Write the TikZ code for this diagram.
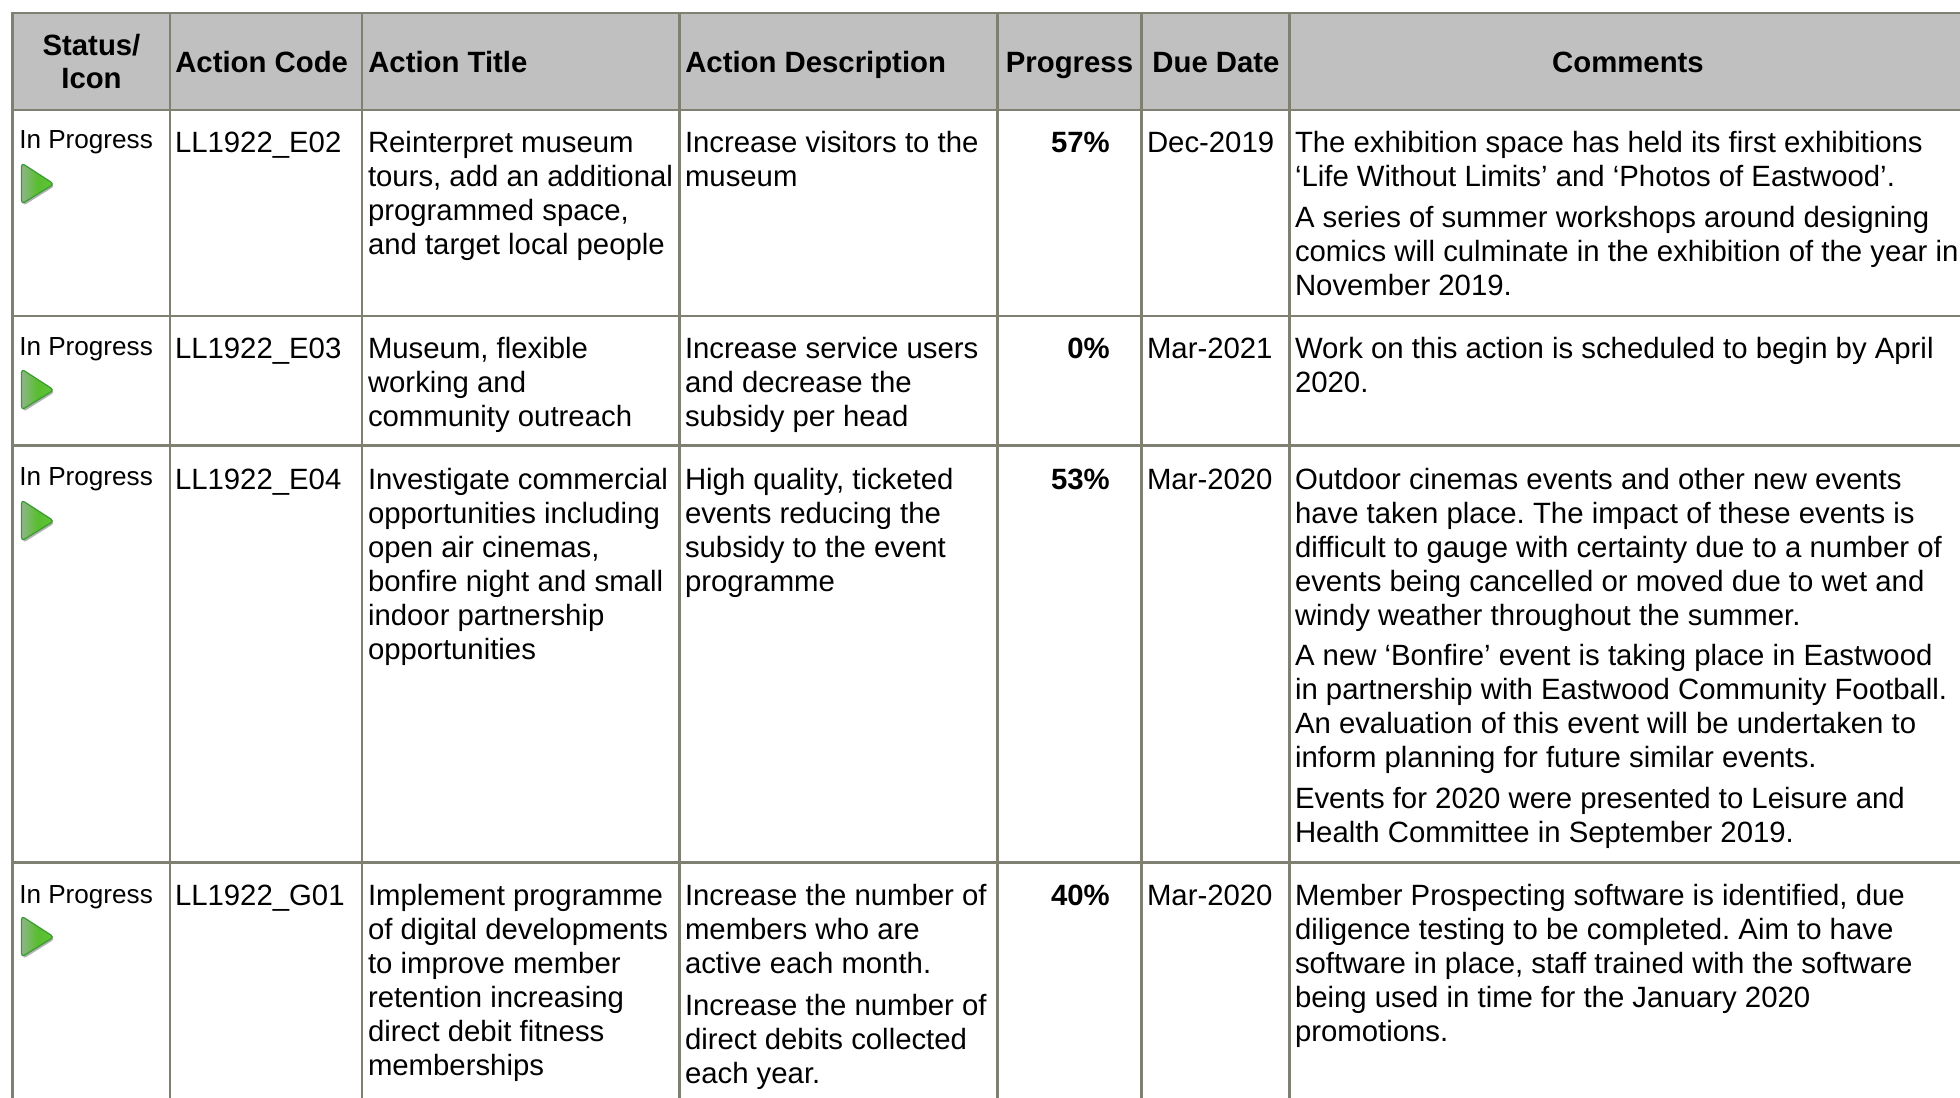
\documentclass[tikz,border=0pt]{standalone}
\usepackage{fontspec}
\setmainfont{Liberation Sans}
\frenchspacing
\newcommand{\fs}{\rule{0pt}{18pt}}
\tikzset{
  x=0.75pt,y=-0.75pt,
  gridline/.style={draw=gridcol,line width=1.9pt},
  txt/.style={anchor=north west,inner sep=0pt,outer sep=0pt,align=left,yshift=17.4pt,font=\fontsize{22}{25.4}\selectfont,text=black},
  status/.style={anchor=base west,inner sep=0pt,font=\fontsize{19.6}{24}\selectfont},
  head/.style={anchor=base,inner sep=0pt,font=\fontsize{22}{25}\selectfont\bfseries},
  headl/.style={head,anchor=base west},
  pct/.style={anchor=base east,inner sep=0pt,yshift=-0.6pt,font=\fontsize{22}{25}\selectfont\bfseries},
  playicon/.pic={
    \path[fill=black!30,rounded corners=2.6pt] (1,1.5) -- (1,42) -- (33,22) -- cycle;
    \path[left color=iconl,right color=iconr,middle color=iconm,draw=iconb,line width=0.9pt,rounded corners=2.6pt] (-0.5,-1) -- (-0.5,40) -- (32,20) -- cycle;
  }
}
\definecolor{gridcol}{HTML}{7F7F72}
\definecolor{headfill}{HTML}{C0C0C0}
\definecolor{iconl}{HTML}{8FB58A}
\definecolor{iconm}{HTML}{58BE2E}
\definecolor{iconr}{HTML}{62C43A}
\definecolor{iconb}{HTML}{3C9A34}
\begin{document}
\begin{tikzpicture}
\useasboundingbox (0,0) rectangle (1960,1098);
\fill[white] (0,0) rectangle (1960,1098);
\fill[headfill] (12,13) rectangle (1960,110);
% grid
\foreach \gx in {12.5,170,362,679.5,997.5,1141.5,1289.5}
  \draw[gridline] (\gx,13) -- (\gx,1098);
\foreach \gy in {13,110,316,445.5,862.5}
  \draw[gridline] (11,\gy) -- (1960,\gy);
% header
\node[head] (h1a) at (91.5,56) {Status/};
\node[head] (h1b) at (91.5,89) {Icon};
\node[headl] (h2) at (175,73) {Action Code};
\node[headl] (h3) at (368,73) {Action Title};
\node[headl] (h4) at (685,73) {Action Description};
\node[head] (h5) at (1069.5,73) {Progress};
\node[head] (h6) at (1216,73) {Due Date};
\node[head] (h7) at (1628,73) {Comments};
% row 1
\node[status] (s1) at (19,149) {In Progress};
\pic at (22,164) {playicon};
\node[txt] (c1) at (175,152) {\fs LL1922\_E02};
\node[txt] (t1) at (368,152) {\fs Reinterpret museum\\tours, add an additional\\programmed space,\\and target local people};
\node[txt] (d1) at (685,152) {\fs Increase visitors to the\\museum};
\node[pct] (p1) at (1110,152) {57\%};
\node[txt] (u1) at (1147,152) {\fs Dec-2019};
\node[txt] (m1a) at (1295,152) {\fs The exhibition space has held its first exhibitions\\‘Life Without Limits’ and ‘Photos of Eastwood’.};
\node[txt] (m1b) at (1295,227) {\fs A series of summer workshops around designing\\comics will culminate in the exhibition of the year in\\November 2019.};
% row 2
\node[status] (s2) at (19,355) {In Progress};
\pic at (22,370) {playicon};
\node[txt] (c2) at (175,358) {\fs LL1922\_E03};
\node[txt] (t2) at (368,358) {\fs Museum, flexible\\working and\\community outreach};
\node[txt] (d2) at (685,358) {\fs Increase service users\\and decrease the\\subsidy per head};
\node[pct] (p2) at (1110,358) {0\%};
\node[txt] (u2) at (1147,358) {\fs Mar-2021};
\node[txt] (m2) at (1295,358) {\fs Work on this action is scheduled to begin by April\\2020.};
% row 3
\node[status] (s3) at (19,485) {In Progress};
\pic at (22,501) {playicon};
\node[txt] (c3) at (175,489) {\fs LL1922\_E04};
\node[txt] (t3) at (368,489) {\fs Investigate commercial\\opportunities including\\open air cinemas,\\bonfire night and small\\indoor partnership\\opportunities};
\node[txt] (d3) at (685,489) {\fs High quality, ticketed\\events reducing the\\subsidy to the event\\programme};
\node[pct] (p3) at (1110,489) {53\%};
\node[txt] (u3) at (1147,489) {\fs Mar-2020};
\node[txt] (m3a) at (1295,489) {\fs Outdoor cinemas events and other new events\\have taken place. The impact of these events is\\difficult to gauge with certainty due to a number of\\events being cancelled or moved due to wet and\\windy weather throughout the summer.};
\node[txt] (m3b) at (1295,665) {\fs A new ‘Bonfire’ event is taking place in Eastwood\\in partnership with Eastwood Community Football.\\An evaluation of this event will be undertaken to\\inform planning for future similar events.};
\node[txt] (m3c) at (1295,808) {\fs Events for 2020 were presented to Leisure and\\Health Committee in September 2019.};
% row 4
\node[status] (s4) at (19,903) {In Progress};
\pic at (22,917) {playicon};
\node[txt] (c4) at (175,905) {\fs LL1922\_G01};
\node[txt] (t4) at (368,905) {\fs Implement programme\\of digital developments\\to improve member\\retention increasing\\direct debit fitness\\memberships};
\node[txt] (d4a) at (685,905) {\fs Increase the number of\\members who are\\active each month.};
\node[txt] (d4b) at (685,1015) {\fs Increase the number of\\direct debits collected\\each year.};
\node[pct] (p4) at (1110,905) {40\%};
\node[txt] (u4) at (1147,905) {\fs Mar-2020};
\node[txt] (m4) at (1295,905) {\fs Member Prospecting software is identified, due\\diligence testing to be completed. Aim to have\\software in place, staff trained with the software\\being used in time for the January 2020\\promotions.};
\end{tikzpicture}
\end{document}
